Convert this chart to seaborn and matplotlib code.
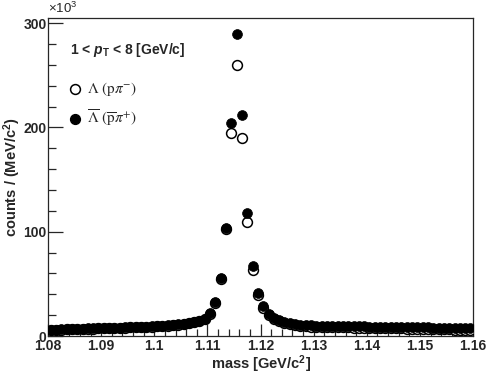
import numpy as np
import pandas as pd
import matplotlib
matplotlib.use('Agg')
import matplotlib.pyplot as plt
from matplotlib.ticker import MultipleLocator, FuncFormatter
import seaborn as sns

sns.set_style('ticks')
plt.rcParams['font.family'] = ['Liberation Sans', 'DejaVu Sans']
plt.rcParams['mathtext.fontset'] = 'custom'
plt.rcParams['mathtext.rm'] = 'Liberation Sans'
plt.rcParams['mathtext.it'] = 'Liberation Sans:italic:bold'
plt.rcParams['mathtext.bf'] = 'Liberation Sans:bold'

# bin centres, 1 MeV bins from 1.08 to 1.16 GeV/c^2
mass = np.round(np.arange(1.0805, 1.16, 0.001), 4)

# Lambda-bar (p-bar pi+) counts, x10^3
lambda_bar = [
    6.0, 6.2, 6.4, 6.6, 6.8, 7.0, 7.1, 7.3, 7.4, 7.5,
    7.7, 7.8, 8.0, 8.1, 8.3, 8.5, 8.7, 8.9, 9.1, 9.3,
    9.6, 9.9, 10.2, 10.6, 11.1, 11.7, 12.4, 13.3, 14.5, 16.5,
    22.0, 33.0, 56.0, 104.0, 204.0, 290.0, 212.0, 118.0, 67.0, 41.0,
    29.0, 21.5, 17.5, 15.0, 13.3, 12.2, 11.4, 10.8, 10.4, 10.1,
    9.9, 9.8, 9.7, 9.6, 9.5, 9.5, 9.4, 9.3, 9.3, 9.2,
    9.1, 9.0, 9.0, 8.9, 8.8, 8.7, 8.6, 8.5, 8.5, 8.4,
    8.3, 8.2, 8.1, 8.0, 8.0, 7.9, 7.8, 7.7, 7.6, 7.5,
]

# Lambda (p pi-) counts, x10^3
lambda_ = [
    5.7, 5.9, 6.1, 6.3, 6.5, 6.7, 6.8, 7.0, 7.1, 7.2,
    7.4, 7.5, 7.7, 7.8, 8.0, 8.2, 8.4, 8.6, 8.8, 9.0,
    9.3, 9.6, 9.9, 10.3, 10.8, 11.4, 12.1, 13.0, 14.2, 16.0,
    21.0, 32.0, 55.0, 103.0, 195.0, 260.0, 190.0, 109.0, 63.0, 39.0,
    27.0, 20.0, 16.3, 14.0, 12.3, 11.2, 10.4, 9.8, 9.4, 9.1,
    8.9, 8.7, 8.6, 8.5, 8.4, 8.3, 8.2, 8.1, 8.0, 7.9,
    7.8, 7.7, 7.6, 7.5, 7.4, 7.3, 7.2, 7.1, 7.0, 6.9,
    6.8, 6.7, 6.6, 6.5, 6.4, 6.3, 6.2, 6.1, 6.0, 5.9,
]

df_l = pd.DataFrame({'mass': mass, 'counts': lambda_})
df_lb = pd.DataFrame({'mass': mass, 'counts': lambda_bar})

fig = plt.figure(figsize=(4.98, 3.75), dpi=100)
ax = fig.add_axes([0.0964, 0.104, 0.8536, 0.848])

msize = 50
sns.scatterplot(data=df_l, x='mass', y='counts', ax=ax, marker='o', s=msize,
                facecolors='white', edgecolor='black', linewidth=1.1, zorder=3)
sns.scatterplot(data=df_lb, x='mass', y='counts', ax=ax, marker='o', s=msize,
                color='black', edgecolor='black', linewidth=0.5, zorder=4)

ax.set_xlim(1.08, 1.16)
ax.set_ylim(0, 305)

ax.xaxis.set_major_locator(MultipleLocator(0.01))
ax.xaxis.set_minor_locator(MultipleLocator(0.002))
ax.yaxis.set_major_locator(MultipleLocator(100))
ax.yaxis.set_minor_locator(MultipleLocator(20))
ax.xaxis.set_major_formatter(FuncFormatter(lambda v, p: ('%.2f' % v).rstrip('0').rstrip('.')))
ax.yaxis.set_major_formatter(FuncFormatter(lambda v, p: '%d' % round(v)))

ax.tick_params(which='both', direction='in', top=False, right=False, width=0.9)
ax.tick_params(axis='y', which='major', length=11, pad=1)
ax.tick_params(axis='y', which='minor', length=6)
ax.tick_params(axis='x', which='major', length=9, pad=2)
ax.tick_params(axis='x', which='minor', length=5)
for lab in ax.get_xticklabels() + ax.get_yticklabels():
    lab.set_fontsize(10)
    lab.set_fontweight('bold')

for sp in ax.spines.values():
    sp.set_linewidth(0.9)
    sp.set_visible(True)

ax.set_xlabel(r'mass [GeV/c$^{\mathbf{2}}$]', fontsize=10.5, fontweight='bold')
ax.set_ylabel(r'counts / (MeV/c$^{\mathbf{2}}$)', fontsize=10.5, fontweight='bold')
ax.xaxis.set_label_coords(0.5, -0.055)
ax.yaxis.set_label_coords(-0.058, 0.5)

fig.text(0.097, 0.958, r'$\times$10$^{3}$', fontsize=9.5, ha='left', va='bottom')

ax.text(0.052, 0.90, r'1 < $p_{\mathbf{T}}$ < 8 [GeV/c]', transform=ax.transAxes,
        fontsize=10, fontweight='bold', ha='left', va='center')

# legend drawn by hand, ROOT style
ax.scatter([0.064], [0.777], transform=ax.transAxes, s=msize, facecolors='white',
           edgecolors='black', linewidths=1.1, clip_on=False)
ax.scatter([0.064], [0.683], transform=ax.transAxes, s=msize, color='black', clip_on=False)
ax.text(0.092, 0.777, r'$\Lambda\ (\mathrm{p}\pi^{-})$', transform=ax.transAxes,
        fontsize=11, ha='left', va='center', math_fontfamily='stix')
ax.text(0.092, 0.683, r'$\overline{\Lambda}\ (\overline{\mathrm{p}}\pi^{+})$', transform=ax.transAxes,
        fontsize=11, ha='left', va='center', math_fontfamily='stix')

fig.savefig('out.png', dpi=100)
